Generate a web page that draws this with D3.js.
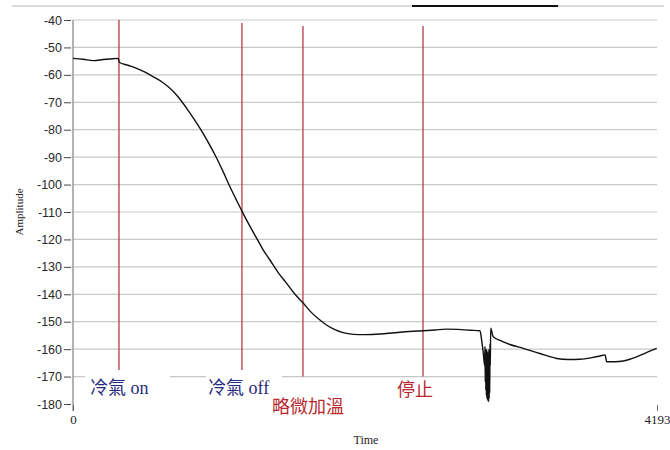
<!DOCTYPE html>
<html>
<head>
<meta charset="utf-8">
<script src="https://cdn.jsdelivr.net/npm/d3@7"></script>
<style>
  body { margin: 0; background: #fff; }
  svg { display: block; }
</style>
</head>
<body>
<div id="content"></div>
<script>
// measured curve: time index and amplitude
const times = [0, 72, 146, 218, 266, 325, 332, 395, 457, 517, 577, 639, 696, 754, 816, 862, 912, 970,
  1032, 1077, 1127, 1170, 1211, 1264, 1319, 1364, 1414, 1472, 1534, 1594, 1654, 1709, 1773, 1817,
  1869, 1939, 2013, 2097, 2204, 2312, 2443, 2515, 2599, 2683, 2764, 2850, 2922, 2934, 2947, 2955,
  2958, 2960, 2962, 2964, 2966, 2968, 2970, 2972, 2974, 2976, 2978, 2980, 2982, 2984, 2986, 2988,
  2990, 2992, 2994, 2996, 2999, 3017, 3066, 3137, 3233,
  3353, 3473, 3554, 3640, 3726, 3784, 3820, 3832, 3892, 3951, 3999, 4071, 4128, 4191];
const amps = [-54.0, -54.3, -54.8, -54.4, -54.2, -54.0, -55.4, -56.5, -57.6, -59.0, -60.7, -62.6, -64.9,
  -68.0, -72.2, -75.6, -79.5, -84.5, -90.4, -95.2, -100.8, -105.3, -109.5, -114.6, -119.6, -123.7,
  -127.5, -132.0, -136.0, -140.0, -143.3, -146.5, -149.4, -151.1, -152.6, -154.0, -154.6, -154.7,
  -154.5, -154.0, -153.5, -153.3, -153.0, -152.7, -152.8, -153.1, -153.3, -156.7, -162.0, -166.0,
  -159.0, -172.0, -160.0, -175.0, -161.0, -177.0, -160.0, -178.0, -162.0, -178.5, -161.0, -179.0,
  -163.0, -179.2, -160.0, -178.0, -164.0, -176.0, -158.0, -166.0, -152.4, -155.5, -156.8, -158.3,
  -159.7, -161.6, -163.4, -163.8, -163.7, -163.1, -162.5, -162.1, -164.6, -164.6, -164.3, -163.7,
  -162.3, -161.0, -159.7];

// event markers
const markTimes = [330, 1213, 1651, 2513];
const markTops = [-40, -41.1, -42.2, -42.2];
const markLabels = ["冷氣 on", "冷氣 off", "略微加溫", "停止"];
const markColors = ["#1f2a7a", "#1f2a7a", "#b8282f", "#b8282f"];
const labelX = [90, 208, 272, 397];
const labelY = [394, 394, 413, 396];

const yTicks = [-40, -50, -60, -70, -80, -90, -100, -110, -120, -130, -140, -150, -160, -170, -180];
const xTicks = [0, 4193];

const W = 670, H = 450;
const svg = d3.select("#content").append("svg")
  .attr("width", W).attr("height", H);

const x = d3.scaleLinear().domain([0, 4193]).range([73, 657]);
const y = d3.scaleLinear().domain([-180, -40]).range([404, 20]);

// window edge at top
svg.append("line").attr("x1", 12).attr("x2", 664).attr("y1", 6).attr("y2", 6)
  .attr("stroke", "#b8b8b8").attr("stroke-width", 1.2);
svg.append("line").attr("x1", 412).attr("x2", 558).attr("y1", 6).attr("y2", 6)
  .attr("stroke", "#111").attr("stroke-width", 2);

// grid
svg.append("g").selectAll("line")
  .data(yTicks.filter(d => d > -180))
  .enter().append("line")
  .attr("x1", x(0)).attr("x2", x(4193))
  .attr("y1", d => y(d)).attr("y2", d => y(d))
  .attr("stroke", "#c8c8c8").attr("stroke-width", 1.2);

// y axis
const yAxis = d3.axisLeft(y).tickValues(yTicks).tickSize(7).tickPadding(2).tickFormat(d => String(d));
const gy = svg.append("g").attr("transform", "translate(71,0)").call(yAxis);
gy.select(".domain").remove();
gy.selectAll(".tick line").attr("stroke", "#444");
gy.selectAll(".tick text").attr("font-family", "Liberation Sans, Arial, sans-serif")
  .attr("font-size", 12.5).attr("fill", "#2a2a2a");

svg.append("line").attr("x1", 73).attr("x2", 73).attr("y1", 20).attr("y2", 411)
  .attr("stroke", "#9a9a9a").attr("stroke-width", 1.5);

// x axis
const xAxis = d3.axisBottom(x).tickValues(xTicks).tickSize(6).tickPadding(4).tickFormat(d => String(d));
const gx = svg.append("g").attr("transform", "translate(0,405)").call(xAxis);
gx.select(".domain").remove();
gx.selectAll(".tick line").attr("stroke", "#666");
gx.selectAll(".tick text").attr("font-family", "Liberation Serif, serif")
  .attr("font-size", 13).attr("fill", "#222");

// axis titles
svg.append("text").attr("x", 366).attr("y", 444).attr("text-anchor", "middle")
  .attr("font-family", "Liberation Serif, serif").attr("font-size", 12).attr("fill", "#222")
  .text("Time");
svg.append("text").attr("transform", "translate(23,212) rotate(-90)").attr("text-anchor", "middle")
  .attr("font-family", "Liberation Serif, serif").attr("font-size", 11).attr("fill", "#222")
  .text("Amplitude");

// event lines
svg.append("g").selectAll("line")
  .data(markTimes)
  .enter().append("line")
  .attr("x1", d => x(d)).attr("x2", d => x(d))
  .attr("y1", (d, i) => y(markTops[i])).attr("y2", y(-170))
  .attr("stroke", "#b53a45").attr("stroke-width", 1.3);

// label backgrounds for blue labels
svg.append("rect").attr("x", 85).attr("y", 370).attr("width", 85).attr("height", 30).attr("fill", "#fff");
svg.append("rect").attr("x", 206).attr("y", 370).attr("width", 76).attr("height", 30).attr("fill", "#fff");

svg.append("g").selectAll("text")
  .data(markLabels)
  .enter().append("text")
  .attr("x", (d, i) => labelX[i]).attr("y", (d, i) => labelY[i])
  .attr("font-family", "Liberation Serif, Noto Sans CJK TC, serif")
  .attr("font-size", 18)
  .attr("fill", (d, i) => markColors[i])
  .text(d => d);

// curve
const line = d3.line().x(d => x(d[0])).y(d => y(d[1])).curve(d3.curveMonotoneX);
svg.append("path")
  .datum(times.map((t, i) => [t, amps[i]]))
  .attr("d", line)
  .attr("fill", "none")
  .attr("stroke", "#111")
  .attr("stroke-width", 1.4)
  .attr("stroke-linejoin", "round");
</script>
</body>
</html>
